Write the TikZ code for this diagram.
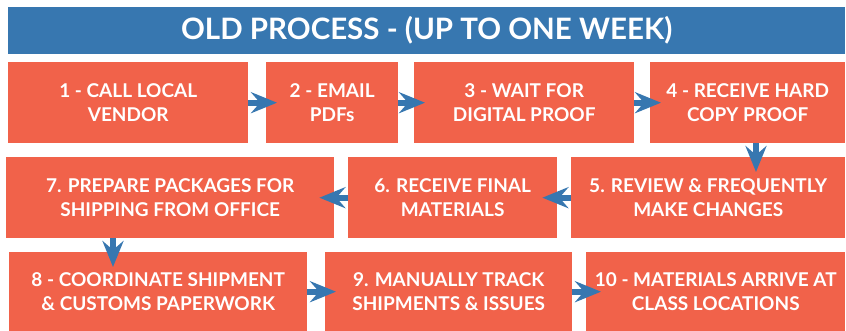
\documentclass[tikz,border=0pt]{standalone}
\usepackage{fontspec}
\setmainfont{Lato}
\usetikzlibrary{arrows.meta, calc}

\definecolor{stepred}{RGB}{241,98,74}
\definecolor{headblue}{RGB}{55,119,176}

\tikzset{
    stepbox/.style={fill=stepred, text=white, anchor=north west, align=center,
        inner sep=0pt, font=\fontsize{19}{24}\selectfont\bfseries},
    flow/.style={draw=headblue, line width=6pt,
        -{Stealth[length=26pt, width=21pt, inset=9pt]}}
}

\begin{document}
\begin{tikzpicture}[x=1pt, y=-1pt]
    \useasboundingbox (0,0) rectangle (846,331);
    % title bar
    \node[fill=headblue, text=white, anchor=north west, inner sep=0pt,
        minimum width=837pt, minimum height=47pt,
        font=\fontsize{29.5}{32}\selectfont\bfseries] (title) at (8,7) {OLD PROCESS - (UP TO ONE WEEK)};
    % first row
    \node[stepbox, minimum width=240pt, minimum height=81pt] (s1) at (8,62) {1 - CALL LOCAL\\VENDOR};
    \node[stepbox, minimum width=132pt, minimum height=81pt] (s2) at (266,62) {2 - EMAIL\\PDFs};
    \node[stepbox, minimum width=220pt, minimum height=81pt] (s3) at (414,62) {3 - WAIT FOR\\DIGITAL PROOF};
    \node[stepbox, minimum width=195pt, minimum height=81pt] (s4) at (650,62) {4 - RECEIVE HARD\\COPY PROOF};
    % second row
    \node[stepbox, minimum width=274pt, minimum height=81pt] (s5) at (571,157) {5. REVIEW \& FREQUENTLY\\MAKE CHANGES};
    \node[stepbox, minimum width=209pt, minimum height=81pt] (s6) at (348,157) {6. RECEIVE FINAL\\MATERIALS};
    \node[stepbox, minimum width=328pt, minimum height=81pt] (s7) at (6,157) {7. PREPARE PACKAGES FOR\\SHIPPING FROM OFFICE};
    % third row
    \node[stepbox, minimum width=298pt, minimum height=79pt] (s8) at (9,252) {8 - COORDINATE SHIPMENT\\\& CUSTOMS PAPERWORK};
    \node[stepbox, minimum width=247pt, minimum height=79pt] (s9) at (325,252) {9. MANUALLY TRACK\\SHIPMENTS \& ISSUES};
    \node[stepbox, minimum width=259pt, minimum height=79pt] (s10) at (586,252) {10 - MATERIALS ARRIVE AT\\CLASS LOCATIONS};
    % arrows
    \draw[flow] (s1.east) -- ([xshift=11pt]s2.west);
    \draw[flow] (s2.east) -- ([xshift=11pt]s3.west);
    \draw[flow] (s3.east) -- ([xshift=11pt]s4.west);
    \draw[flow] (s4.south -| 756,0) -- ($(s5.north -| 756,0)+(0,15)$);
    \draw[flow] (s5.west) -- ([xshift=-15pt]s6.east);
    \draw[flow] (s6.west) -- ([xshift=-15pt]s7.east);
    \draw[flow] (s7.south -| 113,0) -- ($(s8.north -| 113,0)+(0,15)$);
    \draw[flow] (s8.east) -- ([xshift=11pt]s9.west);
    \draw[flow] (s9.east) -- ([xshift=15pt]s10.west);
\end{tikzpicture}
\end{document}
